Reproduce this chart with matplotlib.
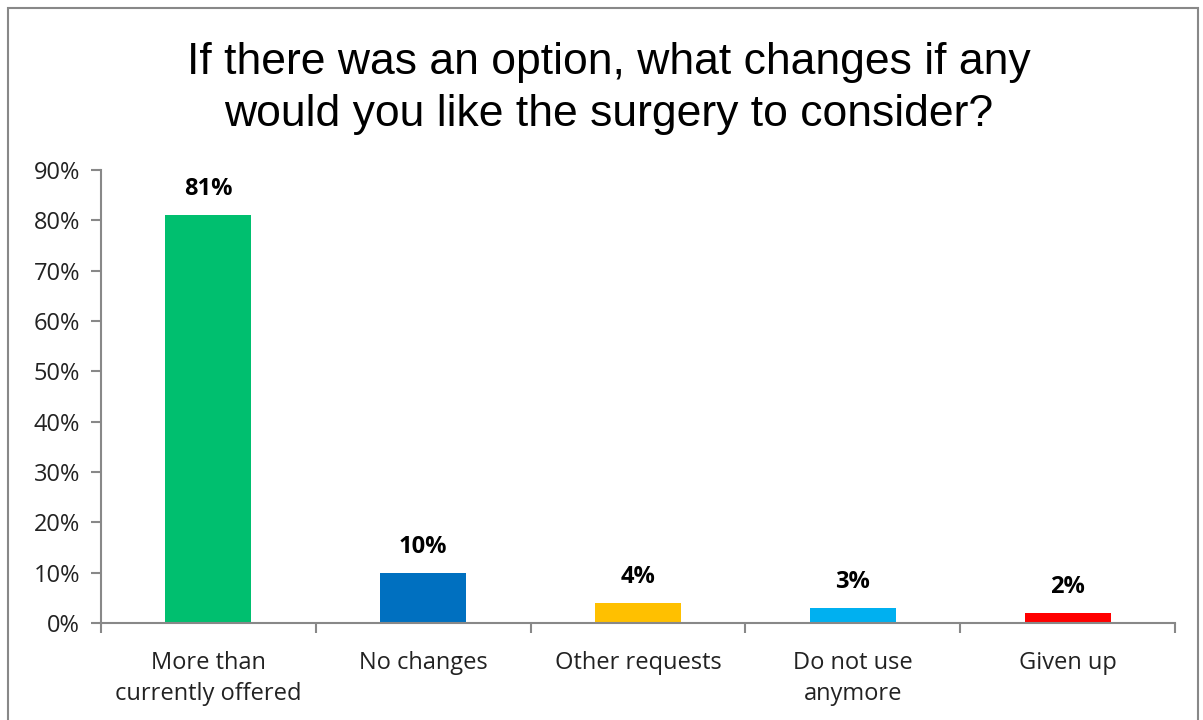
import matplotlib.pyplot as plt
import matplotlib.patches as patches
import numpy as np

# survey answers
categories = ["More than\ncurrently offered", "No changes", "Other requests",
              "Do not use\nanymore", "Given up"]
shares = [81, 10, 4, 3, 2]
colors = ["#00BF6F", "#0070C0", "#FFC000", "#00B0F0", "#FF0000"]
yticks = list(range(0, 100, 10))
title = "If there was an option, what changes if any\nwould you like the surgery to consider?"

fig = plt.figure(figsize=(12.03, 7.2), dpi=100)
ax = fig.add_axes([101/1203, 1 - 623/720, (1175 - 101)/1203, (623 - 170)/720])

x = np.arange(len(categories))
ax.bar(x, shares, width=0.4, color=colors)
for xi, v in zip(x, shares):
    ax.text(xi, v + 2.8, f"{v}%", ha="center", va="bottom", fontsize=17,
            fontweight="bold", family="Open Sans")

ax.set_xlim(-0.5, len(categories) - 0.5)
ax.set_ylim(0, 90)
ax.set_yticks(yticks)
ax.set_yticklabels([f"{t}%" for t in yticks], family="Open Sans", fontsize=17, color="#222222")
ax.set_xticks(x)
ax.set_xticklabels(categories, family="Open Sans", fontsize=17, color="#222222",
                   linespacing=1.4)
ax.tick_params(axis="x", length=0, pad=20)
ax.tick_params(axis="y", length=7, width=1.5, color="#888888", pad=8)
# boundaries between categories carry the x ticks
ax.set_xticks(np.arange(len(categories) + 1) - 0.5, minor=True)
ax.tick_params(axis="x", which="minor", length=7, width=1.5, color="#888888")

for s in ["top", "right"]:
    ax.spines[s].set_visible(False)
for s in ["left", "bottom"]:
    ax.spines[s].set_color("#888888")
    ax.spines[s].set_linewidth(1.5)

fig.text(0.506, 0.877, title, ha="center", va="center", fontsize=32,
         family="Liberation Sans", linespacing=1.32)

fig.patches.append(patches.Rectangle((8/1203, -0.01), 1190/1203, 1 - 8/720 + 0.01,
                                     transform=fig.transFigure, fill=False,
                                     edgecolor="#888888", linewidth=1.5))

fig.savefig("out.png", dpi=100)
